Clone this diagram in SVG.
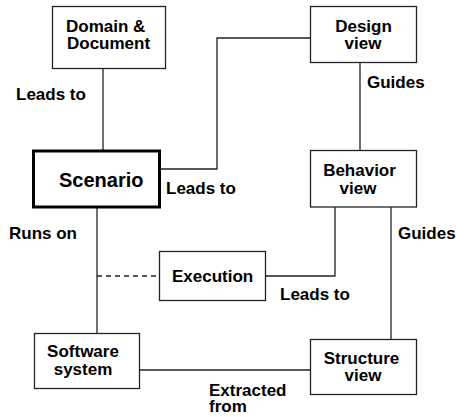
<svg xmlns="http://www.w3.org/2000/svg" width="456" height="417" viewBox="0 0 456 417">
  <style>
    .box { fill: #ffffff; stroke: #222222; stroke-width: 1.3; }
    .main { stroke-width: 3; stroke: #000000; }
    .wire { fill: none; stroke: #222222; stroke-width: 1.3; }
    .dash { stroke-dasharray: 5 4; }
    text { font-family: "Liberation Sans", Arial, sans-serif; font-weight: bold; font-size: 17px; fill: #000000; }
    .big { font-size: 20px; }
    .mid { text-anchor: middle; }
  </style>
  <rect width="456" height="417" fill="#ffffff"/>

  <g id="connectors">
    <line class="wire" x1="103" y1="68" x2="103" y2="150"/>
    <polyline class="wire" points="160,169 217,169 217,38 310,38"/>
    <line class="wire" x1="360" y1="63" x2="360" y2="151"/>
    <line class="wire" x1="97" y1="208" x2="97" y2="333"/>
    <line class="wire dash" x1="97" y1="276" x2="159" y2="276"/>
    <polyline class="wire" points="266,276 335,276 335,207"/>
    <line class="wire" x1="391" y1="207" x2="391" y2="339"/>
    <line class="wire" x1="140" y1="370" x2="310" y2="370"/>
  </g>

  <g id="edge-labels">
    <text x="16" y="100">Leads to</text>
    <text x="166" y="194">Leads to</text>
    <text x="367" y="88">Guides</text>
    <text x="9" y="239">Runs on</text>
    <text x="398" y="239">Guides</text>
    <text x="280" y="300">Leads to</text>
    <text x="209" y="396">Extracted</text>
    <text x="209" y="412">from</text>
  </g>

  <g id="domain-document">
    <rect class="box" x="52.5" y="6.5" width="113" height="62"/>
    <text x="66" y="32">Domain &amp;</text>
    <text x="67" y="49">Document</text>
  </g>

  <g id="design-view">
    <rect class="box" x="310.5" y="6.5" width="106" height="56"/>
    <text class="mid" x="363.5" y="32">Design</text>
    <text class="mid" x="363" y="49">view</text>
  </g>

  <g id="scenario">
    <rect class="box main" x="33.5" y="151" width="126" height="56"/>
    <text class="big" x="59" y="187">Scenario</text>
  </g>

  <g id="behavior-view">
    <rect class="box" x="310.5" y="150.5" width="106" height="56.5"/>
    <text class="mid" x="359.5" y="176">Behavior</text>
    <text class="mid" x="358" y="194">view</text>
  </g>

  <g id="execution">
    <rect class="box" x="159.5" y="251.5" width="106" height="49"/>
    <text x="172" y="282">Execution</text>
  </g>

  <g id="software-system">
    <rect class="box" x="34.5" y="333.5" width="105" height="55"/>
    <text class="mid" x="83" y="357">Software</text>
    <text class="mid" x="83" y="375">system</text>
  </g>

  <g id="structure-view">
    <rect class="box" x="310.5" y="339.5" width="106" height="55"/>
    <text class="mid" x="361.5" y="364">Structure</text>
    <text class="mid" x="363" y="381">view</text>
  </g>
</svg>
